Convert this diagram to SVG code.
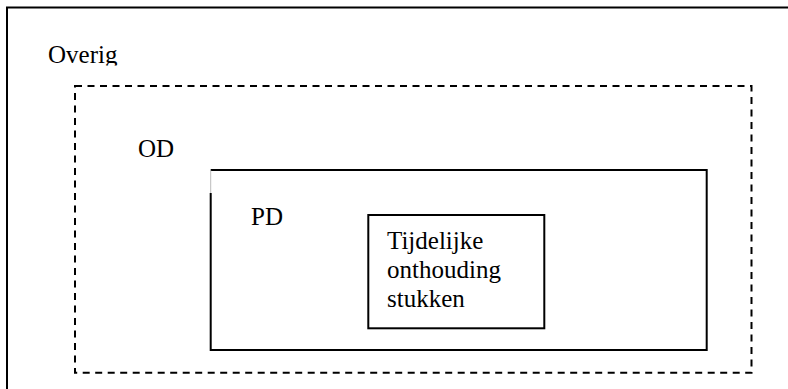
<svg xmlns="http://www.w3.org/2000/svg" width="788" height="389" viewBox="0 0 788 389">
<style>
.t{font-size:25px;fill:#000}
.box{fill:none;stroke:#000;stroke-width:2}
.dash{fill:none;stroke:#000;stroke-width:2;stroke-dasharray:7 5.5}
</style>
<defs>
<clipPath id="clipOverig"><rect x="40" y="30" width="120" height="35.5"/></clipPath>
</defs>
<rect width="788" height="389" fill="#fff"/>
<g id="overig" font-family="Liberation Serif, serif">
<rect class="box" x="7" y="7.5" width="800" height="400"/>
<text class="t" x="48" y="62.7" clip-path="url(#clipOverig)">Overig</text>
</g>
<g id="od" font-family="Liberation Serif, serif">
<rect class="dash" x="75" y="86" width="676.5" height="286.7"/>
<text class="t" x="138" y="157.3">OD</text>
</g>
<g id="pd" font-family="Liberation Serif, serif">
<path class="box" d="M210.7,193 V350 H706.7 V170 H210.7"/>
<line x1="210.7" y1="170" x2="210.7" y2="193" stroke="#aaa" stroke-width="0.8"/>
<text class="t" x="251" y="225">PD</text>
</g>
<g id="tijdelijke" font-family="Liberation Serif, serif">
<rect class="box" x="368.3" y="215" width="176" height="113.3"/>
<text class="t" x="387" y="249.3">Tijdelijke</text>
<text class="t" x="387" y="278">onthouding</text>
<text class="t" x="387" y="306.7">stukken</text>
</g>
<g id="connectors"></g>
</svg>
